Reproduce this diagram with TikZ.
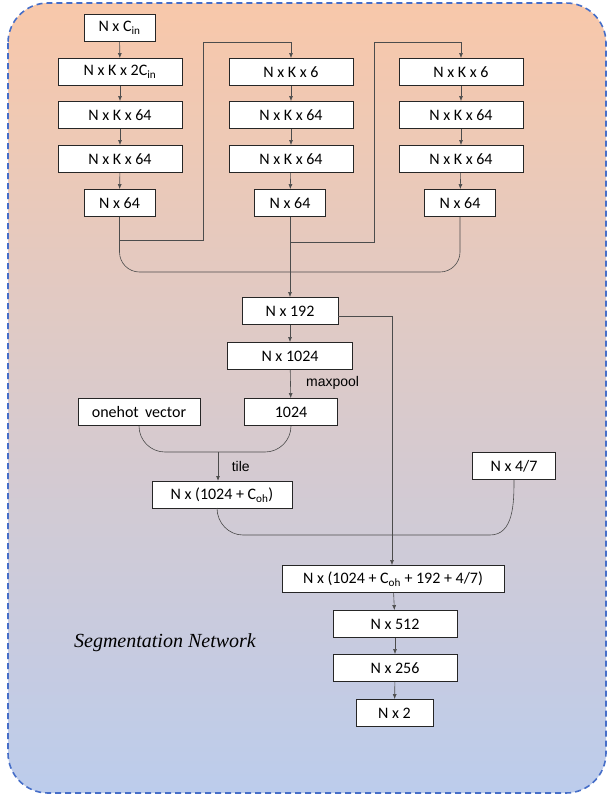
\documentclass[tikz,border=0pt]{standalone}
\usepackage{fontspec}
\setmainfont{Carlito}
\newfontfamily\serifit{Liberation Serif}
\newfontfamily\labsans{Liberation Sans}
\usetikzlibrary{arrows.meta}
\definecolor{topc}{RGB}{248,200,170}
\definecolor{midc}{RGB}{240,226,222}
\definecolor{botc}{RGB}{188,204,236}
\definecolor{bord}{RGB}{70,110,200}
\begin{document}
\begin{tikzpicture}[x=1pt,y=-1pt,
  box/.style={draw=black!85,fill=white,line width=0.9pt,inner sep=0pt,minimum height=27pt,font=\fontsize{16}{18}\selectfont},
  ln/.style={draw=black!70,line width=0.6pt},
  ar/.style={ln,-{Latex[length=5pt,width=4pt]}},
  lab/.style={font=\labsans\fontsize{14}{16}\selectfont}]
\useasboundingbox (0,0) rectangle (614,798);
\shade[top color=topc,middle color=midc,bottom color=botc,rounded corners=40pt]
  (8,3) rectangle (606,793);
\draw[bord,line width=1.6pt,dash pattern=on 6pt off 4pt,rounded corners=40pt] (8,3) rectangle (606,793);
% column 1
\node[box,minimum width=71pt] (a0) at (119.5,28) {N x C\textsubscript{in}};
\node[box,minimum width=124pt] (a1) at (120,72) {N x K x 2C\textsubscript{in}};
\node[box,minimum width=124pt] (a2) at (120,115) {N x K x 64};
\node[box,minimum width=124pt] (a3) at (120,159) {N x K x 64};
\node[box,minimum width=71pt] (a4) at (119.5,203) {N x 64};
% column 2
\node[box,minimum width=124pt] (b1) at (291,72) {N x K x 6};
\node[box,minimum width=124pt] (b2) at (291,115) {N x K x 64};
\node[box,minimum width=124pt] (b3) at (291,159) {N x K x 64};
\node[box,minimum width=71pt] (b4) at (290,203) {N x 64};
% column 3
\node[box,minimum width=124pt] (c1) at (461,72) {N x K x 6};
\node[box,minimum width=124pt] (c2) at (461,115) {N x K x 64};
\node[box,minimum width=124pt] (c3) at (461,159) {N x K x 64};
\node[box,minimum width=71pt] (c4) at (460,203) {N x 64};
% arrows in columns
\draw[ar] (a0) -- (a1); \draw[ar] (a1) -- (a2); \draw[ar] (a2) -- (a3); \draw[ar] (a3) -- (a4);
\draw[ar] (b1) -- (b2); \draw[ar] (b2) -- (b3); \draw[ar] (b3) -- (b4);
\draw[ar] (c1) -- (c2); \draw[ar] (c2) -- (c3); \draw[ar] (c3) -- (c4);
% feeds
\draw[ar] (a4.south) -- (119.5,240) -- (203,240) -- (203,42) -- (291,42) -- (b1.north);
\draw[ar] (b4.south) -- (290,242) -- (374,242) -- (374,42) -- (461,42) -- (c1.north);
% merge
\node[box,minimum width=96pt] (d) at (290,311) {N x 192};
\draw[ln] (a4.south) -- (119.5,252) to[out=-90,in=180] (139.5,272) -- (440,272) to[out=0,in=-90] (460,252) -- (c4.south);
\draw[ar] (b4.south) -- (d.north);
\node[box,minimum width=125pt] (e) at (290,356) {N x 1024};
\node[box,minimum width=93pt] (f) at (291,412) {1024};
\node[box,minimum width=122pt] (g) at (139,412) {onehot\, vector};
\draw[ar] (d) -- (e);
\draw[ar] (e) -- (f) node[lab,midway,right=12pt,yshift=1pt] {maxpool};
\node[box,minimum width=140pt] (h) at (222,495) {N x (1024 + C\textsubscript{oh})};
\draw[ln] (g.south) to[out=-90,in=180] (165,452) -- (265,452) to[out=0,in=-90] (f.south);
\coordinate (t) at (218,452);
\draw[ar,line width=0.9pt] (t) -- (t |- h.north) node[lab,midway,right=10pt] {tile};
\node[box,minimum width=83pt] (k) at (514,466) {N x 4/7};
\coordinate (hb) at (217,508);
\draw[ln] (hb) to[out=-90,in=180] (243,535) -- (490,535) to[out=0,in=-90] (k.south);
\node[box,minimum width=222pt] (m) at (393,579) {N x (1024 + C\textsubscript{oh} + 192 + 4/7)};
\coordinate (r) at (392,316);
\draw[ar] (d.east |- r) -- (r) -- (r |- m.north);
\node[box,minimum width=124pt] (n) at (395,624) {N x 512};
\node[box,minimum width=124pt] (o) at (395,668) {N x 256};
\node[box,minimum width=77pt] (p) at (394.5,713) {N x 2};
\draw[ar] (m) -- (n); \draw[ar] (n) -- (o); \draw[ar] (o) -- (p);
\node[font=\serifit\itshape\fontsize{20}{22}\selectfont] (s) at (165,643) {Segmentation Network};
\end{tikzpicture}
\end{document}
